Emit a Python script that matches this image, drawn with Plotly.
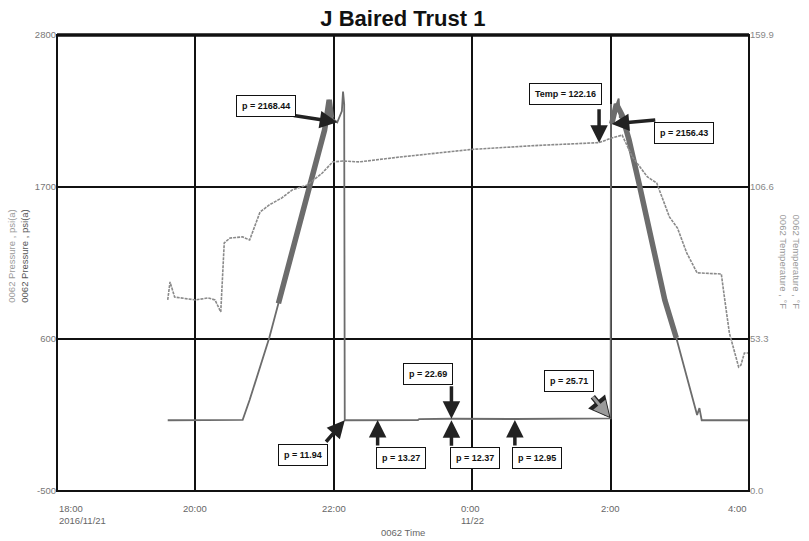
import plotly.graph_objects as go

# ---------------- data ----------------
pressure_time = [
    "2016-11-21 19:36", "2016-11-21 20:21", "2016-11-21 20:22", "2016-11-21 20:41",
    "2016-11-21 20:47", "2016-11-21 21:04", "2016-11-21 21:22", "2016-11-21 21:39",
    "2016-11-21 21:52", "2016-11-21 21:56", "2016-11-21 21:58", "2016-11-21 22:03",
    "2016-11-21 22:07", "2016-11-21 22:08", "2016-11-21 22:09:00", "2016-11-21 22:09:30",
    "2016-11-21 22:38", "2016-11-21 23:13", "2016-11-21 23:14", "2016-11-21 23:42",
    "2016-11-22 00:37", "2016-11-22 01:10", "2016-11-22 01:11", "2016-11-22 02:00",
    "2016-11-22 02:00:20", "2016-11-22 02:01", "2016-11-22 02:03", "2016-11-22 02:05",
    "2016-11-22 02:07", "2016-11-22 02:08", "2016-11-22 02:10", "2016-11-22 02:16",
    "2016-11-22 02:25", "2016-11-22 02:38", "2016-11-22 02:47", "2016-11-22 02:57",
    "2016-11-22 03:07", "2016-11-22 03:15", "2016-11-22 03:17", "2016-11-22 03:19",
    "2016-11-22 04:00",
]
pressure_psi = [
    12, 12, 15, 15,
    158, 607, 1172, 1714,
    2112, 2330, 2200, 2168.44,
    2250, 2390, 2300, 11.94,
    13.27, 13.5, 20, 22.69,
    21, 21, 25, 25.71,
    2300, 2156.43, 2250, 2300,
    2340, 2200, 2220, 2040,
    1714, 1208, 882, 607,
    303, 50, 100, 12,
    12,
]

# noisy (thick) portions of the pressure record
band_time_up = ["2016-11-21 21:12", "2016-11-21 21:22", "2016-11-21 21:39",
                "2016-11-21 21:52", "2016-11-21 21:56", "2016-11-21 21:58"]
band_psi_up = [858, 1172, 1714, 2112, 2330, 2200]
band_time_down = ["2016-11-22 02:01", "2016-11-22 02:05", "2016-11-22 02:10",
                  "2016-11-22 02:16", "2016-11-22 02:25", "2016-11-22 02:38",
                  "2016-11-22 02:47", "2016-11-22 02:57"]
band_psi_down = [2156.43, 2300, 2220, 2040, 1714, 1208, 882, 607]

temp_time = [
    "2016-11-21 19:36", "2016-11-21 19:38", "2016-11-21 19:42", "2016-11-21 20:00",
    "2016-11-21 20:11", "2016-11-21 20:17", "2016-11-21 20:22", "2016-11-21 20:24",
    "2016-11-21 20:25", "2016-11-21 20:30", "2016-11-21 20:41", "2016-11-21 20:47",
    "2016-11-21 20:50", "2016-11-21 20:56", "2016-11-21 21:04", "2016-11-21 21:15",
    "2016-11-21 21:24", "2016-11-21 21:37", "2016-11-21 21:50", "2016-11-21 21:59",
    "2016-11-21 22:08", "2016-11-21 22:22", "2016-11-21 22:57", "2016-11-22 00:00",
    "2016-11-22 00:58", "2016-11-22 01:50", "2016-11-22 02:01", "2016-11-22 02:10",
    "2016-11-22 02:19", "2016-11-22 02:32", "2016-11-22 02:40", "2016-11-22 02:51",
    "2016-11-22 02:58", "2016-11-22 03:06", "2016-11-22 03:15", "2016-11-22 03:36",
    "2016-11-22 03:39", "2016-11-22 03:43", "2016-11-22 03:51", "2016-11-22 03:53",
    "2016-11-22 03:56", "2016-11-22 04:00",
]
temp_f = [
    67.0, 73.3, 68.0, 67.0,
    67.7, 67.0, 62.8, 81.7,
    87.0, 88.7, 89.1, 88.0,
    91.5, 97.8, 100.3, 102.8,
    105.6, 107.3, 111.5, 115.4,
    115.7, 115.4, 117.1, 119.8,
    121.2, 122.16, 123.8, 124.8,
    117.1, 110.1, 108.0, 96.1,
    92.2, 83.5, 76.5, 76.1,
    67.0, 55.4, 43.5, 44.2,
    48.4, 48.4,
]

# labelled readings
label_text = ["p = 2168.44", "Temp = 122.16", "p = 2156.43", "p = 22.69", "p = 12.37",
              "p = 11.94", "p = 13.27", "p = 12.95", "p = 25.71"]
label_time = ["2016-11-21 22:03", "2016-11-22 01:50", "2016-11-22 02:01", "2016-11-21 23:42",
              "2016-11-21 23:42", "2016-11-21 22:09:30", "2016-11-21 22:38", "2016-11-22 00:37",
              "2016-11-22 02:00"]
label_value = [2168.44, 122.16, 2156.43, 22.69, 12.37, 11.94, 13.27, 12.95, 25.71]
label_axis = ["y", "y2", "y", "y", "y", "y", "y", "y", "y"]

# axis ticks
x_tick_time = ["2016-11-21 18:00", "2016-11-21 20:00", "2016-11-21 22:00",
               "2016-11-22 00:00", "2016-11-22 02:00", "2016-11-22 04:00"]
x_tick_text = ["18:00<br>2016/11/21", "20:00", "22:00", "0:00<br>11/22", "2:00", "4:00"]
p_ticks = [-500, 600, 1700, 2800]
p_tick_text = ["-500", "600", "1700", "2800"]
t_ticks = [0.0, 53.3, 106.6, 159.9]
t_tick_text = ["0.0", "53.3", "106.6", "159.9"]

# ---------------- styling ----------------
FONT = "Liberation Sans, Arial, sans-serif"
# (arrow tail offset px, box offset px) per label
arrow_off = [(-45, -7), (0, -35), (45, -4), (0, -34), (0, 27), (-20, 23), (0, 27), (0, 27), (-19, -23)]
box_shift = [(-71, 16), (-34, 49), (72, -9), (-23, 45), (24, -38), (-42, -35), (23, -38), (22, -38), (-42, 37)]
hollow = [False, False, False, False, False, False, False, False, True]

fig = go.Figure()

fig.add_trace(go.Scatter(x=pressure_time, y=pressure_psi, mode="lines",
                         line=dict(color="#6c6c6c", width=1.8), yaxis="y",
                         name="0062 Pressure", hoverinfo="skip"))
fig.add_trace(go.Scatter(x=band_time_up, y=band_psi_up, mode="lines",
                         line=dict(color="#6c6c6c", width=5.5), yaxis="y",
                         showlegend=False, hoverinfo="skip"))
fig.add_trace(go.Scatter(x=band_time_down, y=band_psi_down, mode="lines",
                         line=dict(color="#6c6c6c", width=5.5), yaxis="y",
                         showlegend=False, hoverinfo="skip"))
fig.add_trace(go.Scatter(x=temp_time, y=temp_f, mode="lines",
                         line=dict(color="#8a8a8a", width=1.6, dash="3px,1px"), yaxis="y2",
                         name="0062 Temperature", hoverinfo="skip"))

annotations = []
for i in range(len(label_text)):
    base = dict(x=label_time[i], y=label_value[i], xref="x", yref=label_axis[i], text="",
                showarrow=True, ax=arrow_off[i][0], ay=arrow_off[i][1],
                arrowhead=2, standoff=0)
    if hollow[i]:
        annotations.append(dict(base, arrowsize=0.8, arrowwidth=5.5, arrowcolor="#222"))
        annotations.append(dict(base, arrowsize=1.05, arrowwidth=3, arrowcolor="#9a9a9a",
                                standoff=2))
    else:
        annotations.append(dict(base, arrowsize=1, arrowwidth=3.5, arrowcolor="#222"))
for i in range(len(label_text)):
    annotations.append(dict(
        x=label_time[i], y=label_value[i], xref="x", yref=label_axis[i],
        text="<b>" + label_text[i] + "</b>", showarrow=False,
        xshift=box_shift[i][0], yshift=box_shift[i][1],
        font=dict(family=FONT, size=9, color="#111"),
        bgcolor="white", bordercolor="#111", borderwidth=1, borderpad=5))

# x tick labels
for i, (t, s) in enumerate(zip(x_tick_time, x_tick_text)):
    anchor = "left" if i == 0 else ("right" if i == len(x_tick_time) - 1 else "center")
    annotations.append(dict(x=t, y=-0.022, xref="x", yref="paper", text=s, showarrow=False,
                            xanchor=anchor, yanchor="top", align="left",
                            font=dict(family=FONT, size=9.5, color="#666")))
annotations.append(dict(x=0.5, y=-0.092, xref="paper", yref="paper", text="0062 Time",
                        showarrow=False, xanchor="center", yanchor="middle",
                        font=dict(family=FONT, size=9.5, color="#666")))
# axis titles
annotations.append(dict(x=-0.057, y=0.515, xref="paper", yref="paper", textangle=-90,
                        text="<span style='color:#9a9a9a'>0062 Pressure , psi(a)</span><br>"
                             "<span style='color:#555'>0062 Pressure , psi(a)</span>",
                        showarrow=False, xanchor="center", yanchor="middle",
                        font=dict(family=FONT, size=9.5, color="#777")))
annotations.append(dict(x=1.06, y=0.502, xref="paper", yref="paper", textangle=90,
                        text="0062 Temperature , °F<br>0062 Temperature , °F",
                        showarrow=False, xanchor="center", yanchor="middle",
                        font=dict(family=FONT, size=9.5, color="#999")))

fig.update_layout(
    width=809, height=541,
    margin=dict(l=57, r=60, t=35, b=50),
    paper_bgcolor="white", plot_bgcolor="white",
    showlegend=False,
    title=dict(text="<b>J Baired Trust 1</b>", x=0.498, xanchor="center",
               y=1 - 18 / 541, yanchor="middle",
               font=dict(family=FONT, size=22, color="#111")),
    xaxis=dict(type="date", range=[x_tick_time[0], x_tick_time[-1]],
               tickvals=x_tick_time, showticklabels=False, ticks="",
               showgrid=True, gridcolor="#111", gridwidth=1.5, zeroline=False,
               showline=False),
    yaxis=dict(range=[p_ticks[0], p_ticks[-1]], tickvals=p_ticks, ticktext=p_tick_text,
               ticks="", showgrid=True, gridcolor="#111", gridwidth=2, zeroline=False,
               tickfont=dict(family=FONT, size=9.5, color="#777"), showline=False),
    yaxis2=dict(range=[t_ticks[0], t_ticks[-1]], tickvals=t_ticks, ticktext=t_tick_text,
                overlaying="y", side="right", ticks="", showgrid=False, zeroline=False,
                tickfont=dict(family=FONT, size=9.5, color="#888"), showline=False),
    annotations=annotations,
    shapes=[
        dict(type="rect", xref="paper", yref="paper", x0=0, x1=1, y0=0, y1=1,
             line=dict(color="#111", width=2), layer="above"),
        dict(type="line", xref="paper", yref="paper", x0=0, x1=1, y0=1, y1=1,
             line=dict(color="#111", width=3.5), layer="above"),
    ],
)

fig.write_html("out.html", config={"displayModeBar": False},
               post_script="document.body.style.margin='0px';")
